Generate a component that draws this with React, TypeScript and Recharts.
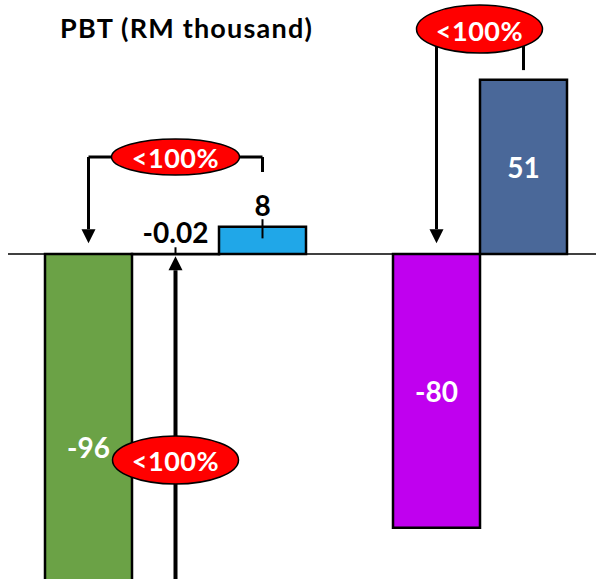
import { Bar, BarChart, Cell, LabelList, ReferenceDot, ReferenceLine, XAxis, YAxis } from "recharts";

// PBT per period, RM thousand ("gap" is an empty spacer slot between the two groups)
const periods = ["3Q23", "2Q24", "3Q24", "gap", "9M23", "9M24"];
const pbt: (number | null)[] = [-96, -0.02, 8, null, -80, 51];
const barColors = ["#6BA246", "#6BA246", "#20A7E8", "#ffffff", "#C000EF", "#4A6899"];
const badgeText = "<100%";

const rows = periods.map((period, i) => ({ period, pbt: pbt[i] }));

const FONT = "Lato, 'Open Sans', sans-serif";
const W = 596;
const H = 579;

// label nudges for bars that run past the plot edge
const labelNudge: Record<number, number> = { 0: 29 };

function ValueLabel(props: any) {
  const { x, y, width, height, value, index } = props;
  if (value == null) return null;
  const top = Math.min(y, y + height);
  const bottom = Math.max(y, y + height);
  const cx = x + width / 2;
  const small = bottom - top < 40;
  const cy = small ? top - 22 : (top + bottom) / 2 + (labelNudge[index] ?? 0);
  return (
    <text x={cx} y={cy} textAnchor="middle" dominantBaseline="central" fontFamily={FONT} fontWeight={700} fontSize={28} fill={small ? "#000" : "#fff"}>
      {value}
    </text>
  );
}

function Connector(props: any) {
  const { x1, y1, x2, y2, arrow, width = 3 } = props;
  if (!arrow) return <line x1={x1} y1={y1} x2={x2} y2={y2} stroke="#000" strokeWidth={width} />;
  const dir = y2 > y1 ? 1 : -1;
  const head = 14;
  const half = 7;
  const baseY = y2 - dir * head;
  return (
    <g>
      <line x1={x1} y1={y1} x2={x2} y2={baseY} stroke="#000" strokeWidth={width} />
      <polygon points={`${x2 - half},${baseY} ${x2 + half},${baseY} ${x2},${y2}`} fill="#000" />
    </g>
  );
}

function Badge({ cx, cy, rx = 63, ry = 23 }: { cx: number; cy: number; rx?: number; ry?: number }) {
  return (
    <g>
      <ellipse cx={cx} cy={cy} rx={rx} ry={ry} fill="#FF0000" stroke="#000" strokeWidth={1.5} />
      <text x={cx} y={cy + 1} textAnchor="middle" dominantBaseline="central" fontFamily={FONT} fontWeight={700} fontSize={27} letterSpacing={0.5} fill="#fff">
        {badgeText}
      </text>
    </g>
  );
}

export default function App() {
  return (
    <div style={{ position: "absolute", left: 0, top: 0, width: W, height: H, background: "#fff" }}>
      <div style={{ position: "absolute", left: 60, top: 11, fontFamily: FONT, fontWeight: 700, fontSize: 27, letterSpacing: 1.2, color: "#000", zIndex: 1, whiteSpace: "nowrap" }}>
        PBT (RM thousand)
      </div>
      <BarChart width={W} height={H} data={rows} margin={{ top: 0, right: 0, bottom: 0, left: 8 }} barCategoryGap={0}>
        <XAxis dataKey="period" type="category" hide padding={{ left: 37, right: 29 }} />
        <YAxis hide domain={[-95, 74.3]} allowDataOverflow />
        <Bar dataKey="pbt" stroke="#000" strokeWidth={2.5} isAnimationActive={false}>
          {rows.map((r, i) => (
            <Cell key={r.period} fill={barColors[i]} />
          ))}
          <LabelList dataKey="pbt" content={ValueLabel} />
        </Bar>
        <ReferenceLine y={0} stroke="#000" strokeWidth={1.5} />

        {/* left badge: 3Q23 vs 3Q24 */}
        <ReferenceLine segment={[{ x: "3Q23", y: 28.4 }, { x: "3Q24", y: 28.4 }]} shape={(p: any) => <Connector {...p} />} />
        <ReferenceLine segment={[{ x: "3Q23", y: 28.4 }, { x: "3Q23", y: 3.2 }]} shape={(p: any) => <Connector {...p} arrow />} />
        <ReferenceLine segment={[{ x: "3Q24", y: 28.4 }, { x: "3Q24", y: 24 }]} shape={(p: any) => <Connector {...p} />} />
        <ReferenceLine segment={[{ x: "3Q24", y: 10.2 }, { x: "3Q24", y: 4.6 }]} shape={(p: any) => <Connector {...p} width={2} />} />
        <ReferenceLine segment={[{ x: "2Q24", y: 2 }, { x: "2Q24", y: 0 }]} shape={(p: any) => <Connector {...p} width={2} />} />

        {/* bottom badge: up arrow into 2Q24 */}
        <ReferenceLine segment={[{ x: "2Q24", y: -95 }, { x: "2Q24", y: -0.6 }]} shape={(p: any) => <Connector {...p} arrow width={4} />} />

        {/* right badge: 9M23 vs 9M24 */}
        <ReferenceLine segment={[{ x: "9M23", y: 65.8 }, { x: "9M23", y: 3.2 }]} shape={(p: any) => <Connector {...p} arrow />} />
        <ReferenceLine segment={[{ x: "9M24", y: 65.8 }, { x: "9M24", y: 53.8 }]} shape={(p: any) => <Connector {...p} />} />

        <ReferenceDot x="2Q24" y={28.4} shape={(p: any) => <Badge cx={p.cx} cy={p.cy} rx={64} ry={18} />} />
        <ReferenceDot x="2Q24" y={-60.2} shape={(p: any) => <Badge cx={p.cx} cy={p.cy} rx={63} ry={24} />} />
        <ReferenceDot x="9M23" y={65.8} shape={(p: any) => <Badge cx={p.cx + 43} cy={p.cy} rx={63} ry={24} />} />
      </BarChart>
    </div>
  );
}
